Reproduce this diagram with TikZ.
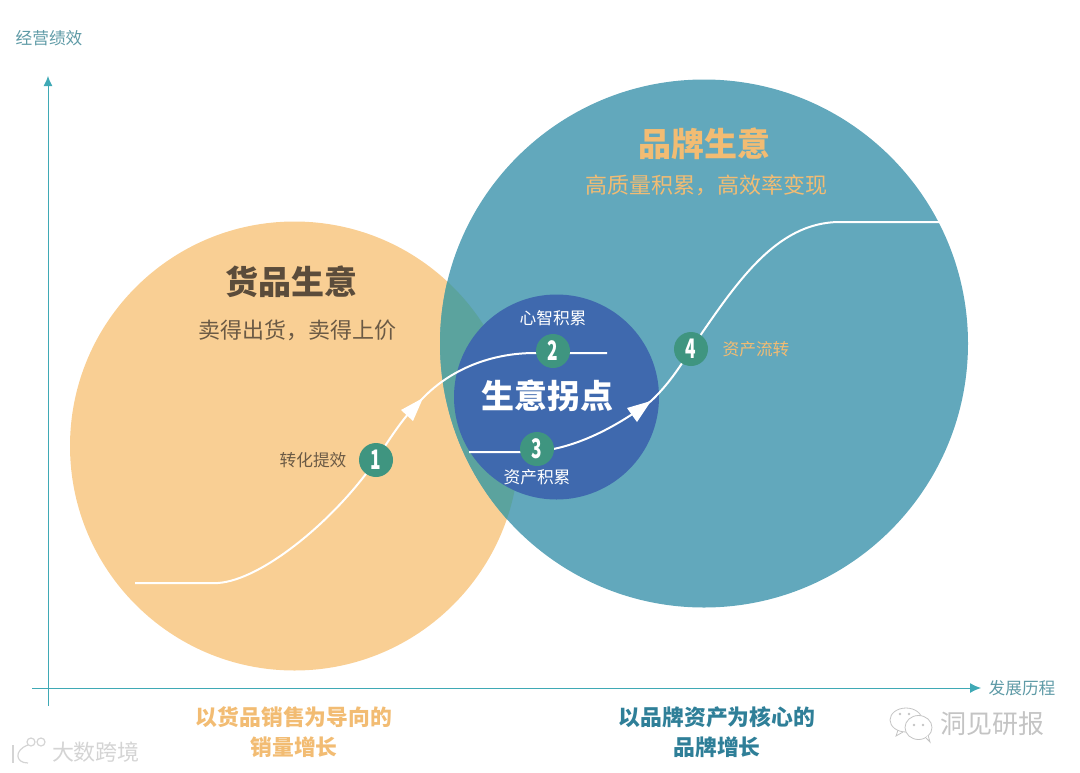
\documentclass[tikz,border=0pt]{standalone}
\usepackage{fontspec}
\usetikzlibrary{arrows.meta}
\setmainfont{Noto Sans CJK SC}
\definecolor{orangefill}{HTML}{F9CF94}
\definecolor{tealfill}{HTML}{62A8BC}
\definecolor{overlapfill}{HTML}{5BA39E}
\definecolor{bluefill}{HTML}{3F69AE}
\definecolor{greenfill}{HTML}{3F9580}
\definecolor{axiscol}{HTML}{3FA9B5}
\definecolor{axistext}{HTML}{5E9AA6}
\definecolor{goldtext}{HTML}{F2BC73}
\definecolor{darktealtext}{HTML}{2F7F98}
\definecolor{browntext}{HTML}{6B5A45}
\definecolor{marktext}{HTML}{C4C4C4}
\definecolor{marktextb}{HTML}{D4D4D4}
\newcommand{\badgenum}[1]{\scalebox{0.72}[1.12]{#1}}
\tikzset{
  badge/.style={circle,fill=greenfill,text=white,minimum size=34pt,inner sep=0pt,font=\fontsize{24}{24}\selectfont\bfseries},
  lbl/.style={inner sep=0pt,font=\fontsize{16.7}{16.7}\selectfont},
  curve/.style={draw=white,line width=2pt},
  axisline/.style={draw=axiscol,line width=1pt},
  blob/.style={circle,inner sep=0pt},
  title/.style={inner sep=0pt,font=\fontsize{33}{33}\selectfont\bfseries},
  subtitle/.style={inner sep=0pt,font=\fontsize{22}{22}\selectfont},
  caption/.style={inner sep=0pt,align=center,font=\fontsize{21.8}{30}\selectfont\bfseries},
  headtip/.style={fill=white,draw=none},
  wmark/.style={inner sep=0pt,text=marktext,font=\fontsize{26}{26}\selectfont},
  wline/.style={draw=marktext,line width=0.8pt},
  wlineb/.style={draw=marktextb,line width=1.2pt}
}
\begin{document}
\begin{tikzpicture}[x=1pt,y=-1pt]
\useasboundingbox (0,0) rectangle (1080,772);
% big circles
\node[blob,fill=orangefill,minimum size=449pt] (goods) at (294.5,446) {};
\node[blob,fill=tealfill,minimum size=528pt] (brand) at (704,343.5) {};
\begin{scope}
  \clip (294.5,446) circle (224.5);
  \fill[overlapfill] (704,343.5) circle (264);
\end{scope}
\node[blob,fill=bluefill,minimum size=205pt] (turn) at (556.5,397) {};
% axes
\coordinate (yb) at (48,706); \coordinate (yt) at (48,76);
\coordinate (xl) at (32,688); \coordinate (xr) at (981,688);
\draw[axisline,-{Latex[length=10pt,width=9pt]}] (yb) -- (yt);
\draw[axisline,-{Latex[length=11pt,width=10pt]}] (xl) -- (xr);
% curves
\coordinate (c1s) at (135,583);
\coordinate (c1a) at (423,398);
\coordinate (c1e) at (607,353);
\coordinate (c2s) at (469,452);
\coordinate (c2a) at (651,401);
\coordinate (c2e) at (940,222);
\coordinate (p1) at (376,460);
\coordinate (p2) at (553,351);
\coordinate (p3) at (537,449);
\coordinate (p4) at (691,349);
\path[curve] (c1s) -- (218,583) .. controls (262,580) and (335,520) .. (p1)
  .. controls (392,435) and (405,415) .. (c1a)
  .. controls (450,370) and (490,353) .. (535,353) -- (c1e);
\path[curve] (c2s) -- (525,452) .. controls (570,452) and (615,428) .. (c2a)
  .. controls (668,385) and (680,367) .. (p4)
  .. controls (735,285) and (775,222) .. (840,222) -- (c2e);
\path[headtip] (c1a) -- (401,410) -- (413,421) -- cycle;
\path[headtip] (c2a) -- (627,408) -- (637,422) -- cycle;
\node[badge] (n1) at (p1) {\badgenum{1}};
\node[badge] (n2) at (p2) {\badgenum{2}};
\node[badge] (n3) at (p3) {\badgenum{3}};
\node[badge] (n4) at (p4) {\badgenum{4}};
% texts
\node[lbl,text=axistext] (ylab) at (49,38) {经营绩效};
\node[lbl,text=axistext] (xlab) at (1022,688) {发展历程};
\node[title,text=browntext!85!black] (t1) at (291,282) {货品生意};
\node[subtitle,text=browntext] (s1) at (297,330) {卖得出货，卖得上价};
\node[title,text=goldtext] (t2) at (704,144) {品牌生意};
\node[subtitle,text=goldtext] (s2) at (706,185) {高质量积累，高效率变现};
\node[title,text=white] (t3) at (547,396) {生意拐点};
\node[lbl,text=white] (l2) at (553,318) {心智积累};
\node[lbl,text=white] (l3) at (537,477) {资产积累};
\node[lbl,text=browntext] (l1) at (313,460) {转化提效};
\node[lbl,text=goldtext] (l4) at (756,349) {资产流转};
\node[caption,text=goldtext] (c1) at (294,732) {以货品销售为导向的\\销量增长};
\node[caption,text=darktealtext] (c2) at (717,732) {以品牌资产为核心的\\品牌增长};
\node[wmark] (m1) at (992,724) {洞见研报};
\node[wmark,text=marktextb,font=\fontsize{22}{22}\selectfont] (m2) at (96,752) {大数跨境};
% watermark icons
\draw[wline] (906,720) ellipse (16 and 12);
\draw[wline,fill=white] (918.5,727.5) ellipse (13.5 and 12);
\draw[wline] (898,730) -- (896,736) -- (903,732);
\draw[wline,fill=white] (926,738) -- (930,742) -- (928,735);
\fill[marktext] (900,714) circle (1.3);
\fill[marktext] (909,714) circle (1.3);
\fill[marktext] (914,725) circle (1.3);
\fill[marktext] (923,725) circle (1.3);
\draw[wlineb] (13,745) -- (13,763);
\draw[wlineb] (28,745) .. controls (14,750) and (15,763) .. (28,763);
\draw[wlineb] (31,742) circle (4);
\draw[wlineb] (41,742) circle (4);
\end{tikzpicture}
\end{document}
